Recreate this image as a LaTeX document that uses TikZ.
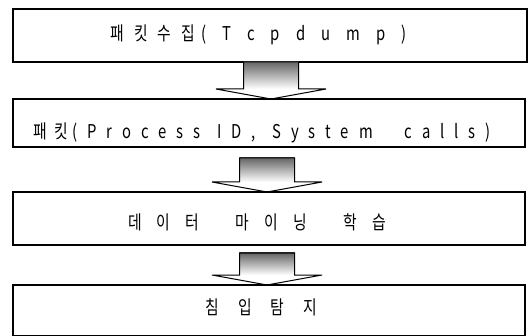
\documentclass[tikz,border=0pt]{standalone}
\usepackage{fontspec}
\setmainfont{Noto Sans CJK KR}[FakeStretch=0.78]
\usetikzlibrary{calc}
\makeatletter
\def\spc@stop{spc@stop@marker}
% #1 gap after each character, #2 extra gap for a word space (~), #3 text
\newcommand\spc[3]{\def\spc@g{#1}\def\spc@w{#2}\spc@a#3\spc@stop}
\def\spc@a#1{\ifx#1\spc@stop\else\ifx#1~\space\hspace{\spc@w}\else#1\hspace{\spc@g}\fi\expandafter\spc@a\fi}
\makeatother
% #1 upper node, #2 lower node, #3 gap below upper node, #4 x centre
\newcommand{\flowarrow}[4]{%
  \path let \p1=(#1.south), \p2=(#2.north) in
    coordinate (fa-t) at (#4, \y1-#3)
    coordinate (fa-h) at (#4, \y2+10pt)
    coordinate (fa-p) at (#4, \y2);
  \shade[top color=black!60, middle color=black!25, bottom color=white]
    ($(fa-t)+(-27.5,0)$) rectangle ($(fa-h)+(27.5,0)$);
  \draw[arrline] ($(fa-t)+(-27.5,0)$) -- ($(fa-h)+(-27.5,0)$) -- ($(fa-h)+(-55,0)$)
    -- (fa-p) -- ($(fa-h)+(55,0)$) -- ($(fa-h)+(27.5,0)$) -- ($(fa-t)+(27.5,0)$) -- cycle;
}
\begin{document}
\begin{tikzpicture}[x=1pt,y=-1pt,
  box/.style={draw, line width=1.1pt, rectangle, inner sep=0pt, outer sep=0pt},
  lbl/.style={anchor=base west, inner sep=0pt, font=\fontsize{19}{22}\selectfont},
  arrline/.style={line width=1pt, line join=miter}]
\useasboundingbox (0,0) rectangle (529,336);
\node[box, minimum width=514pt, minimum height=53pt] (b1) at (270,35.5) {};
\node[box, minimum width=512pt, minimum height=48pt] (b2) at (269,123) {};
\node[box, minimum width=512pt, minimum height=53pt] (b3) at (269,218.5) {};
\node[box, minimum width=512pt, minimum height=51pt] (b4) at (269,310.5) {};
\node[lbl] (t1) at (110,41) {\spc{10.2pt}{0pt}{패킷수집}\hspace{-4pt}\spc{16pt}{0pt}{(Tcpdump)}};
\node[lbl] (t2) at (33,139) {\spc{7.2pt}{0pt}{패킷}\hspace{-2pt}\spc{9.8pt}{4pt}{(Process~ID,~System}\hspace{15pt}\spc{9.8pt}{4pt}{~calls)}};
\node[lbl] (t3) at (128,230) {\spc{15pt}{18.5pt}{데이터~마이닝~학습}};
\node[lbl] (t4) at (205,314) {\spc{19.2pt}{0pt}{침입탐지}};
\flowarrow{b1}{b2}{0pt}{271pt}
\flowarrow{b2}{b3}{11pt}{267pt}
\flowarrow{b3}{b4}{8pt}{267pt}
\end{tikzpicture}
\end{document}
